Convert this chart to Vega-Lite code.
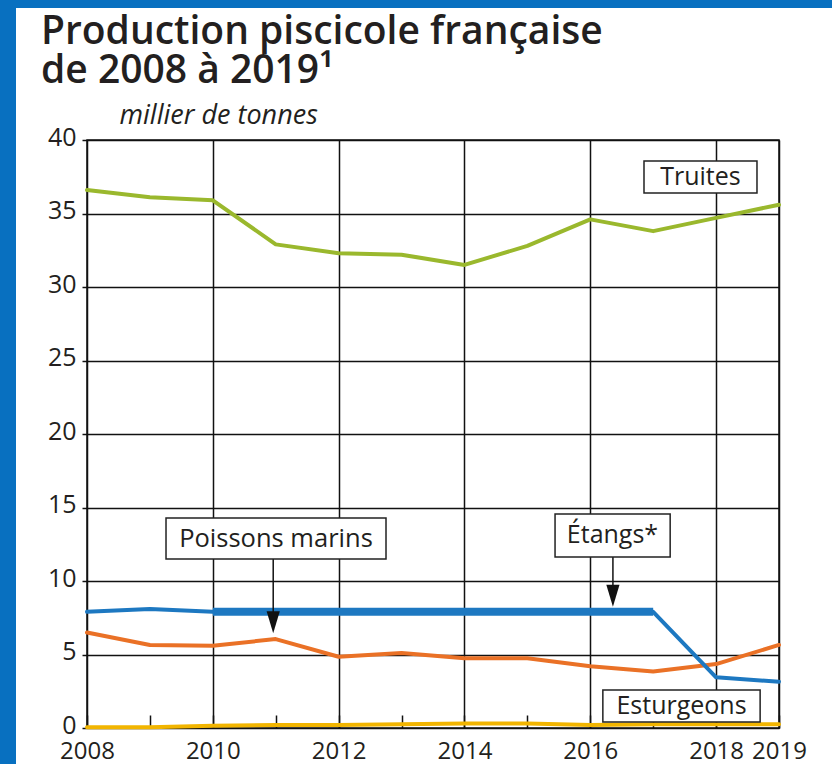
{
  "$schema": "https://vega.github.io/schema/vega-lite/v6.json",
  "background": "white",
  "padding": 0,
  "spacing": 0,
  "config": {
    "font": "Open Sans",
    "view": {"stroke": null},
    "concat": {"spacing": 0}
  },
  "datasets": {
    "prod": [
      {"year": 2008, "serie": "Truites", "value": 36.6},
      {"year": 2009, "serie": "Truites", "value": 36.1},
      {"year": 2010, "serie": "Truites", "value": 35.9},
      {"year": 2011, "serie": "Truites", "value": 32.9},
      {"year": 2012, "serie": "Truites", "value": 32.3},
      {"year": 2013, "serie": "Truites", "value": 32.2},
      {"year": 2014, "serie": "Truites", "value": 31.5},
      {"year": 2015, "serie": "Truites", "value": 32.8},
      {"year": 2016, "serie": "Truites", "value": 34.6},
      {"year": 2017, "serie": "Truites", "value": 33.8},
      {"year": 2018, "serie": "Truites", "value": 34.7},
      {"year": 2019, "serie": "Truites", "value": 35.6},
      {"year": 2008, "serie": "Poissons marins", "value": 6.5},
      {"year": 2009, "serie": "Poissons marins", "value": 5.65},
      {"year": 2010, "serie": "Poissons marins", "value": 5.6},
      {"year": 2011, "serie": "Poissons marins", "value": 6.05},
      {"year": 2012, "serie": "Poissons marins", "value": 4.85},
      {"year": 2013, "serie": "Poissons marins", "value": 5.1},
      {"year": 2014, "serie": "Poissons marins", "value": 4.75},
      {"year": 2015, "serie": "Poissons marins", "value": 4.75},
      {"year": 2016, "serie": "Poissons marins", "value": 4.2},
      {"year": 2017, "serie": "Poissons marins", "value": 3.85},
      {"year": 2018, "serie": "Poissons marins", "value": 4.35},
      {"year": 2019, "serie": "Poissons marins", "value": 5.65},
      {"year": 2008, "serie": "Étangs", "value": 7.9},
      {"year": 2009, "serie": "Étangs", "value": 8.1},
      {"year": 2010, "serie": "Étangs", "value": 7.9},
      {"year": 2011, "serie": "Étangs", "value": 7.9},
      {"year": 2012, "serie": "Étangs", "value": 7.9},
      {"year": 2013, "serie": "Étangs", "value": 7.9},
      {"year": 2014, "serie": "Étangs", "value": 7.9},
      {"year": 2015, "serie": "Étangs", "value": 7.9},
      {"year": 2016, "serie": "Étangs", "value": 7.9},
      {"year": 2017, "serie": "Étangs", "value": 7.9},
      {"year": 2018, "serie": "Étangs", "value": 3.45},
      {"year": 2019, "serie": "Étangs", "value": 3.15},
      {"year": 2008, "serie": "Esturgeons", "value": 0.05},
      {"year": 2009, "serie": "Esturgeons", "value": 0.05},
      {"year": 2010, "serie": "Esturgeons", "value": 0.15},
      {"year": 2011, "serie": "Esturgeons", "value": 0.2},
      {"year": 2012, "serie": "Esturgeons", "value": 0.2},
      {"year": 2013, "serie": "Esturgeons", "value": 0.25},
      {"year": 2014, "serie": "Esturgeons", "value": 0.3},
      {"year": 2015, "serie": "Esturgeons", "value": 0.3},
      {"year": 2016, "serie": "Esturgeons", "value": 0.2},
      {"year": 2017, "serie": "Esturgeons", "value": 0.25},
      {"year": 2018, "serie": "Esturgeons", "value": 0.25},
      {"year": 2019, "serie": "Esturgeons", "value": 0.25}
    ]
  },
  "vconcat": [
    {
      "width": 832,
      "height": 8,
      "view": {"fill": "#0870c0", "stroke": null},
      "data": {"values": [{"a": 1}]},
      "mark": {"type": "point", "opacity": 0},
      "encoding": {}
    },
    {
      "spacing": 24,
      "hconcat": [
        {
          "width": 16,
          "height": 624,
          "data": {"values": [{"a": 1}]},
          "mark": {"type": "rect", "fill": "#0870c0", "clip": false},
          "encoding": {
            "x": {"datum": 0, "type": "quantitative", "scale": {"domain": [0, 1], "nice": false, "zero": false}, "axis": null},
            "x2": {"datum": 1},
            "y": {"datum": 0, "type": "quantitative", "scale": {"domain": [0, 1], "nice": false, "zero": false}, "axis": null},
            "y2": {"datum": 1.2115}
          }
        },
        {
          "width": 692,
          "height": 588,
          "title": {
            "text": ["Production piscicole française", "de 2008 à 2019¹"],
            "anchor": "start",
            "frame": "group",
            "dx": -46,
            "font": "Open Sans",
            "fontSize": 39,
            "fontWeight": 600,
            "lineHeight": 39,
            "color": "#231f20",
            "offset": 10
          },
          "view": {"stroke": "#111111", "strokeWidth": 1.5},
          "data": {"name": "prod"},
          "layer": [
            {
              "mark": {"type": "line", "strokeWidth": 4, "strokeJoin": "round", "strokeCap": "round"},
              "encoding": {
                "x": {
                  "field": "year",
                  "type": "quantitative",
                  "scale": {"domain": [2008, 2019], "nice": false, "zero": false},
                  "axis": {
                    "title": null,
                    "values": [2008, 2009, 2010, 2011, 2012, 2013, 2014, 2015, 2016, 2017, 2018, 2019],
                    "format": "d",
                    "labelExpr": "(datum.value % 2 == 0 || datum.value == 2019) ? datum.label : ''",
                    "labelFlush": false,
                    "labelOverlap": false,
                    "labelFontSize": 24,
                    "labelColor": "#231f20",
                    "labelPadding": 24,
                    "domain": false,
                    "grid": true,
                    "gridColor": "#111111",
                    "gridWidth": 1.5,
                    "gridOpacity": {"condition": {"test": "datum.value % 2 == 1 && datum.value != 2019", "value": 0}, "value": 1},
                    "tickSize": -13,
                    "tickColor": "#111111",
                    "tickWidth": 1.5
                  }
                },
                "y": {
                  "field": "value",
                  "type": "quantitative",
                  "scale": {"domain": [0, 40], "nice": false},
                  "axis": {
                    "title": "millier de tonnes",
                    "titleAngle": 0,
                    "titleAlign": "left",
                    "titleBaseline": "alphabetic",
                    "titleX": 32,
                    "titleY": -17,
                    "titleFontStyle": "italic",
                    "titleFontWeight": "normal",
                    "titleFontSize": 27,
                    "titleColor": "#231f20",
                    "values": [0, 5, 10, 15, 20, 25, 30, 35, 40],
                    "labelFontSize": 25,
                    "labelColor": "#231f20",
                    "labelPadding": 6,
                    "labelBaseline": "middle",
                    "labelOffset": -3,
                    "domain": false,
                    "grid": true,
                    "gridColor": "#111111",
                    "gridWidth": 1.5,
                    "tickSize": 5,
                    "tickColor": "#111111",
                    "tickWidth": 1.5
                  }
                },
                "color": {
                  "field": "serie",
                  "type": "nominal",
                  "scale": {
                    "domain": ["Esturgeons", "Truites", "Poissons marins", "Étangs"],
                    "range": ["#f2b500", "#9ab82d", "#ea7126", "#1d78c1"]
                  },
                  "legend": null
                }
              }
            },
            {
              "transform": [{"filter": "datum.serie == 'Étangs' && datum.year >= 2010 && datum.year <= 2017"}],
              "mark": {"type": "line", "strokeWidth": 8, "color": "#1d78c1"},
              "encoding": {
                "x": {"field": "year", "type": "quantitative"},
                "y": {"field": "value", "type": "quantitative"}
              }
            },
            {
              "data": {"values": [{"a": 1}]},
              "mark": {"type": "rect", "fill": "white", "stroke": "#222222", "strokeWidth": 1.5},
              "encoding": {
                "x": {"datum": 2016.854, "type": "quantitative"},
                "x2": {"datum": 2018.65},
                "y": {"datum": 38.57, "type": "quantitative"},
                "y2": {"datum": 36.39}
              }
            },
            {
              "data": {"values": [{"a": 1}]},
              "mark": {"type": "text", "text": "Truites", "fontSize": 25, "color": "#231f20", "baseline": "middle", "align": "center"},
              "encoding": {
                "x": {"datum": 2017.752, "type": "quantitative"},
                "y": {"datum": 37.48, "type": "quantitative"}
              }
            },
            {
              "data": {"values": [{"a": 1}]},
              "mark": {"type": "rule", "color": "#111111", "strokeWidth": 1.5},
              "encoding": {
                "x": {"datum": 2010.96, "type": "quantitative"},
                "y": {"datum": 11.5, "type": "quantitative"},
                "y2": {"datum": 7.6}
              }
            },
            {
              "data": {"values": [{"a": 1}]},
              "mark": {"type": "point", "shape": "M-0.6,-1L0.6,-1L0,1Z", "filled": true, "color": "#111111", "opacity": 1, "size": 484, "strokeWidth": 0},
              "encoding": {
                "x": {"datum": 2010.96, "type": "quantitative"},
                "y": {"datum": 7.2, "type": "quantitative"}
              }
            },
            {
              "data": {"values": [{"a": 1}]},
              "mark": {"type": "rect", "fill": "white", "stroke": "#222222", "strokeWidth": 1.5},
              "encoding": {
                "x": {"datum": 2009.256, "type": "quantitative"},
                "x2": {"datum": 2012.753},
                "y": {"datum": 14.29, "type": "quantitative"},
                "y2": {"datum": 11.5}
              }
            },
            {
              "data": {"values": [{"a": 1}]},
              "mark": {"type": "text", "text": "Poissons marins", "fontSize": 25.5, "color": "#231f20", "baseline": "middle", "align": "center"},
              "encoding": {
                "x": {"datum": 2011.004, "type": "quantitative"},
                "y": {"datum": 12.89, "type": "quantitative"}
              }
            },
            {
              "data": {"values": [{"a": 1}]},
              "mark": {"type": "rule", "color": "#111111", "strokeWidth": 1.5},
              "encoding": {
                "x": {"datum": 2016.36, "type": "quantitative"},
                "y": {"datum": 11.63, "type": "quantitative"},
                "y2": {"datum": 9.3}
              }
            },
            {
              "data": {"values": [{"a": 1}]},
              "mark": {"type": "point", "shape": "M-0.6,-1L0.6,-1L0,1Z", "filled": true, "color": "#111111", "opacity": 1, "size": 484, "strokeWidth": 0},
              "encoding": {
                "x": {"datum": 2016.36, "type": "quantitative"},
                "y": {"datum": 9.0, "type": "quantitative"}
              }
            },
            {
              "data": {"values": [{"a": 1}]},
              "mark": {"type": "rect", "fill": "white", "stroke": "#222222", "strokeWidth": 1.5},
              "encoding": {
                "x": {"datum": 2015.44, "type": "quantitative"},
                "x2": {"datum": 2017.27},
                "y": {"datum": 14.56, "type": "quantitative"},
                "y2": {"datum": 11.63}
              }
            },
            {
              "data": {"values": [{"a": 1}]},
              "mark": {"type": "text", "text": "Étangs*", "fontSize": 25, "color": "#231f20", "baseline": "middle", "align": "center"},
              "encoding": {
                "x": {"datum": 2016.353, "type": "quantitative"},
                "y": {"datum": 13.1, "type": "quantitative"}
              }
            },
            {
              "data": {"values": [{"a": 1}]},
              "mark": {"type": "rect", "fill": "white", "stroke": "#222222", "strokeWidth": 1.5},
              "encoding": {
                "x": {"datum": 2016.2, "type": "quantitative"},
                "x2": {"datum": 2018.7},
                "y": {"datum": 2.585, "type": "quantitative"},
                "y2": {"datum": 0.408}
              }
            },
            {
              "data": {"values": [{"a": 1}]},
              "mark": {"type": "text", "text": "Esturgeons", "fontSize": 25, "color": "#231f20", "baseline": "middle", "align": "center"},
              "encoding": {
                "x": {"datum": 2017.45, "type": "quantitative"},
                "y": {"datum": 1.5, "type": "quantitative"}
              }
            }
          ]
        }
      ]
    }
  ]
}
